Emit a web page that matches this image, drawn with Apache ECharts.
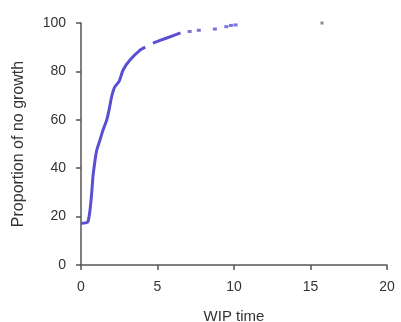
<!DOCTYPE html>
<html>
<head>
<meta charset="utf-8">
<style>
  html, body { margin: 0; padding: 0; background: #fff; }
  #chart { width: 401px; height: 322px; }
</style>
<script src="https://cdn.jsdelivr.net/npm/echarts@6/dist/echarts.min.js"></script>
</head>
<body>
<div id="chart"></div>
<script>
// Cumulative proportion of samples with no growth versus WIP time
const curveX = [0, 0.3, 0.46, 0.59, 0.7, 0.78, 0.92, 1.03, 1.24, 1.44, 1.68, 1.83, 2.0, 2.2, 2.5, 2.75, 3.2, 3.86, 4.2, null, 4.7, 5.6, 6.5];
const curveY = [17.2, 17.4, 18, 22.7, 29.8, 36.4, 43.4, 47.5, 51.7, 55.8, 59.9, 64, 69.5, 73.5, 76, 80.6, 84.7, 88.8, 90, null, 91.7, 93.8, 95.9];
const tailX = [7.1, 7.7, 8.75, 9.5, 9.8, 10.1];
const tailY = [96.5, 97, 97.5, 98.5, 99, 99.2];
const outlierX = [15.75];
const outlierY = [100];
const xTicks = [0, 5, 10, 15, 20];
const yTicks = [0, 20, 40, 60, 80, 100];

const curve = curveX.map((x, i) => (x === null ? [null, null] : [x, curveY[i]]));
const tail = tailX.map((x, i) => [x, tailY[i]]);
const outlier = outlierX.map((x, i) => [x, outlierY[i]]);

const axisColor = '#555';
const textColor = '#333';
const font = 'Liberation Sans, Arial, sans-serif';

const chart = echarts.init(document.getElementById('chart'));
chart.setOption({
  animation: false,
  grid: { left: 81, right: 14, top: 23, bottom: 57, outerBoundsMode: 'none', containLabel: false },
  xAxis: {
    type: 'value',
    min: xTicks[0], max: xTicks[xTicks.length - 1], interval: 5,
    name: 'WIP time', nameLocation: 'middle', nameGap: 44,
    nameTextStyle: { color: textColor, fontSize: 15, fontFamily: font },
    axisLine: { show: true, lineStyle: { color: axisColor, width: 1.5 } },
    axisTick: { show: true, length: 5, lineStyle: { color: axisColor, width: 1.5 } },
    axisLabel: { color: textColor, fontSize: 14, fontFamily: font, margin: 15 },
    splitLine: { show: false }
  },
  yAxis: {
    type: 'value',
    min: yTicks[0], max: yTicks[yTicks.length - 1], interval: 20,
    name: 'Proportion of no growth', nameLocation: 'middle', nameGap: 54,
    nameTextStyle: { color: textColor, fontSize: 16, fontFamily: font },
    axisLine: { show: true, lineStyle: { color: axisColor, width: 1.5 } },
    axisTick: { show: true, length: 5, lineStyle: { color: axisColor, width: 1.5 } },
    axisLabel: { color: textColor, fontSize: 14, fontFamily: font, margin: 15 },
    splitLine: { show: false }
  },
  series: [
    {
      type: 'line', data: curve, smooth: 0.2, showSymbol: false, connectNulls: false,
      lineStyle: { color: '#5a4fd2', width: 3 }
    },
    {
      type: 'scatter', data: tail, symbol: 'rect', symbolSize: [4, 3],
      itemStyle: { color: '#5a4fd2' }
    },
    {
      type: 'scatter', data: outlier, symbol: 'rect', symbolSize: [3, 3],
      itemStyle: { color: '#6b6b80' }
    }
  ]
});
</script>
</body>
</html>
